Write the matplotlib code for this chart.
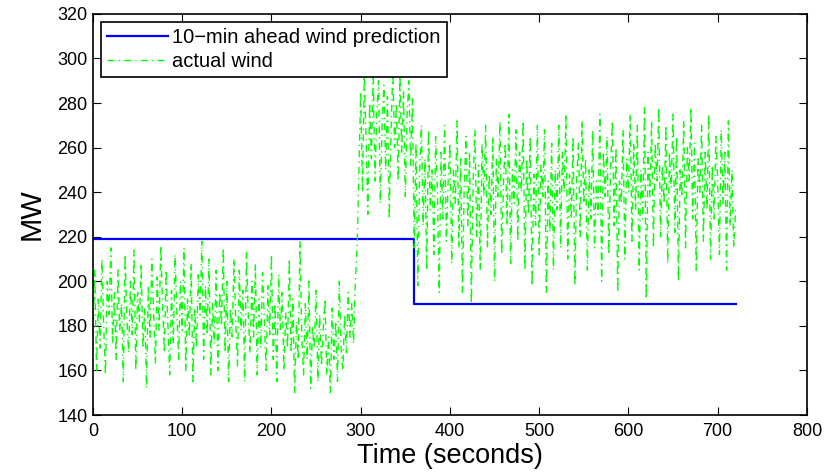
import matplotlib.pyplot as plt

plt.rcParams['font.family'] = ['Liberation Sans', 'DejaVu Sans']

# prediction: step down at 360 s
pred_time = [0, 360, 360, 720]
pred_mw = [219, 219, 190, 190]

# actual wind, every 2 s
wind_time = list(range(0, 721, 2))
wind_mw = [
    175, 205, 160, 192, 170, 210, 180, 158, 200, 185,
    215, 172, 195, 165, 205, 178, 190, 155, 212, 183,
    168, 200, 176, 214, 160, 195, 182, 208, 170, 188,
    152, 198, 175, 210, 185, 163, 202, 178, 216, 190,
    168, 205, 180, 158, 196, 172, 212, 186, 165, 200,
    178, 215, 160, 192, 175, 208, 155, 188, 170, 203,
    185, 218, 165, 198, 176, 210, 158, 190, 172, 205,
    160, 195, 180, 215, 168, 200, 155, 188, 175, 210,
    182, 162, 205, 178, 196, 155, 213, 185, 168, 200,
    175, 208, 158, 192, 170, 204, 183, 160, 198, 176,
    212, 165, 190, 155, 203, 178, 195, 160, 186, 170,
    210, 168, 192, 150, 182, 165, 218, 175, 158, 190,
    165, 200, 152, 180, 170, 196, 155, 185, 162, 178,
    192, 158, 175, 150, 188, 165, 182, 155, 200, 170,
    160, 185, 168, 195, 175, 190, 172, 200, 215, 250,
    285, 240, 292, 265, 230, 280, 255, 295, 245, 275,
    290, 235, 270, 288, 250, 283, 228, 268, 295, 260,
    280, 245, 292, 258, 285, 238, 275, 290, 252, 282,
    215, 262, 198, 248, 270, 225, 255, 205, 268, 232,
    250, 212, 265, 240, 195, 258, 228, 270, 218, 245,
    262, 208, 250, 235, 272, 215, 255, 195, 242, 265,
    225, 258, 190, 245, 268, 220, 252, 205, 262, 238,
    270, 215, 248, 230, 265, 200, 255, 238, 272, 212,
    245, 262, 225, 275, 208, 250, 235, 268, 218, 258,
    240, 272, 205, 255, 230, 265, 198, 248, 225, 270,
    212, 252, 238, 268, 195, 245, 222, 262, 205, 250,
    232, 270, 215, 258, 240, 275, 210, 248, 228, 265,
    198, 245, 262, 220, 272, 235, 255, 205, 250, 228,
    268, 215, 245, 230, 275, 200, 258, 238, 265, 212,
    250, 272, 225, 260, 195, 245, 235, 268, 210, 255,
    240, 275, 218, 262, 232, 270, 205, 250, 228, 278,
    192, 258, 238, 272, 215, 262, 245, 278, 220, 252,
    235, 270, 208, 258, 242, 275, 222, 265, 200, 250,
    238, 272, 215, 260, 245, 278, 228, 262, 205, 255,
    240, 270, 218, 258, 232, 275, 210, 252, 228, 265,
    245, 212, 268, 235, 258, 205, 272, 225, 250, 215,
    232,
]

fig = plt.figure(figsize=(8.36, 4.73), dpi=100)
ax = fig.add_axes([0.1112, 0.1226, 0.854, 0.848])

ax.plot(pred_time, pred_mw, color='#0000ff', lw=1.6, label='10\u2212min ahead wind prediction')
ax.plot(wind_time, wind_mw, color='#00ff00', lw=1.0, linestyle=(0, (5, 3, 1, 3)), label='actual wind')

ax.set_xlim(0, 800)
ax.set_ylim(140, 320)
ax.set_xticks(range(0, 801, 100))
ax.set_yticks(range(140, 321, 20))
ax.tick_params(direction='in', top=True, right=True, labelsize=13, length=6)
ax.tick_params(axis='x', pad=6)
ax.tick_params(axis='y', pad=4)
for s in ax.spines.values():
    s.set_linewidth(1.2)
ax.set_xlabel('Time (seconds)', fontsize=19.5, labelpad=2)
ax.set_ylabel('MW', fontsize=21, labelpad=8)

leg = ax.legend(loc='upper left', fancybox=False, edgecolor='black', framealpha=1,
                fontsize=14.5, handlelength=3.0, handletextpad=0.2, borderaxespad=0.4,
                labelspacing=0.22, borderpad=0.32)
leg.get_frame().set_linewidth(1.2)

fig.savefig('out.png', dpi=100)
